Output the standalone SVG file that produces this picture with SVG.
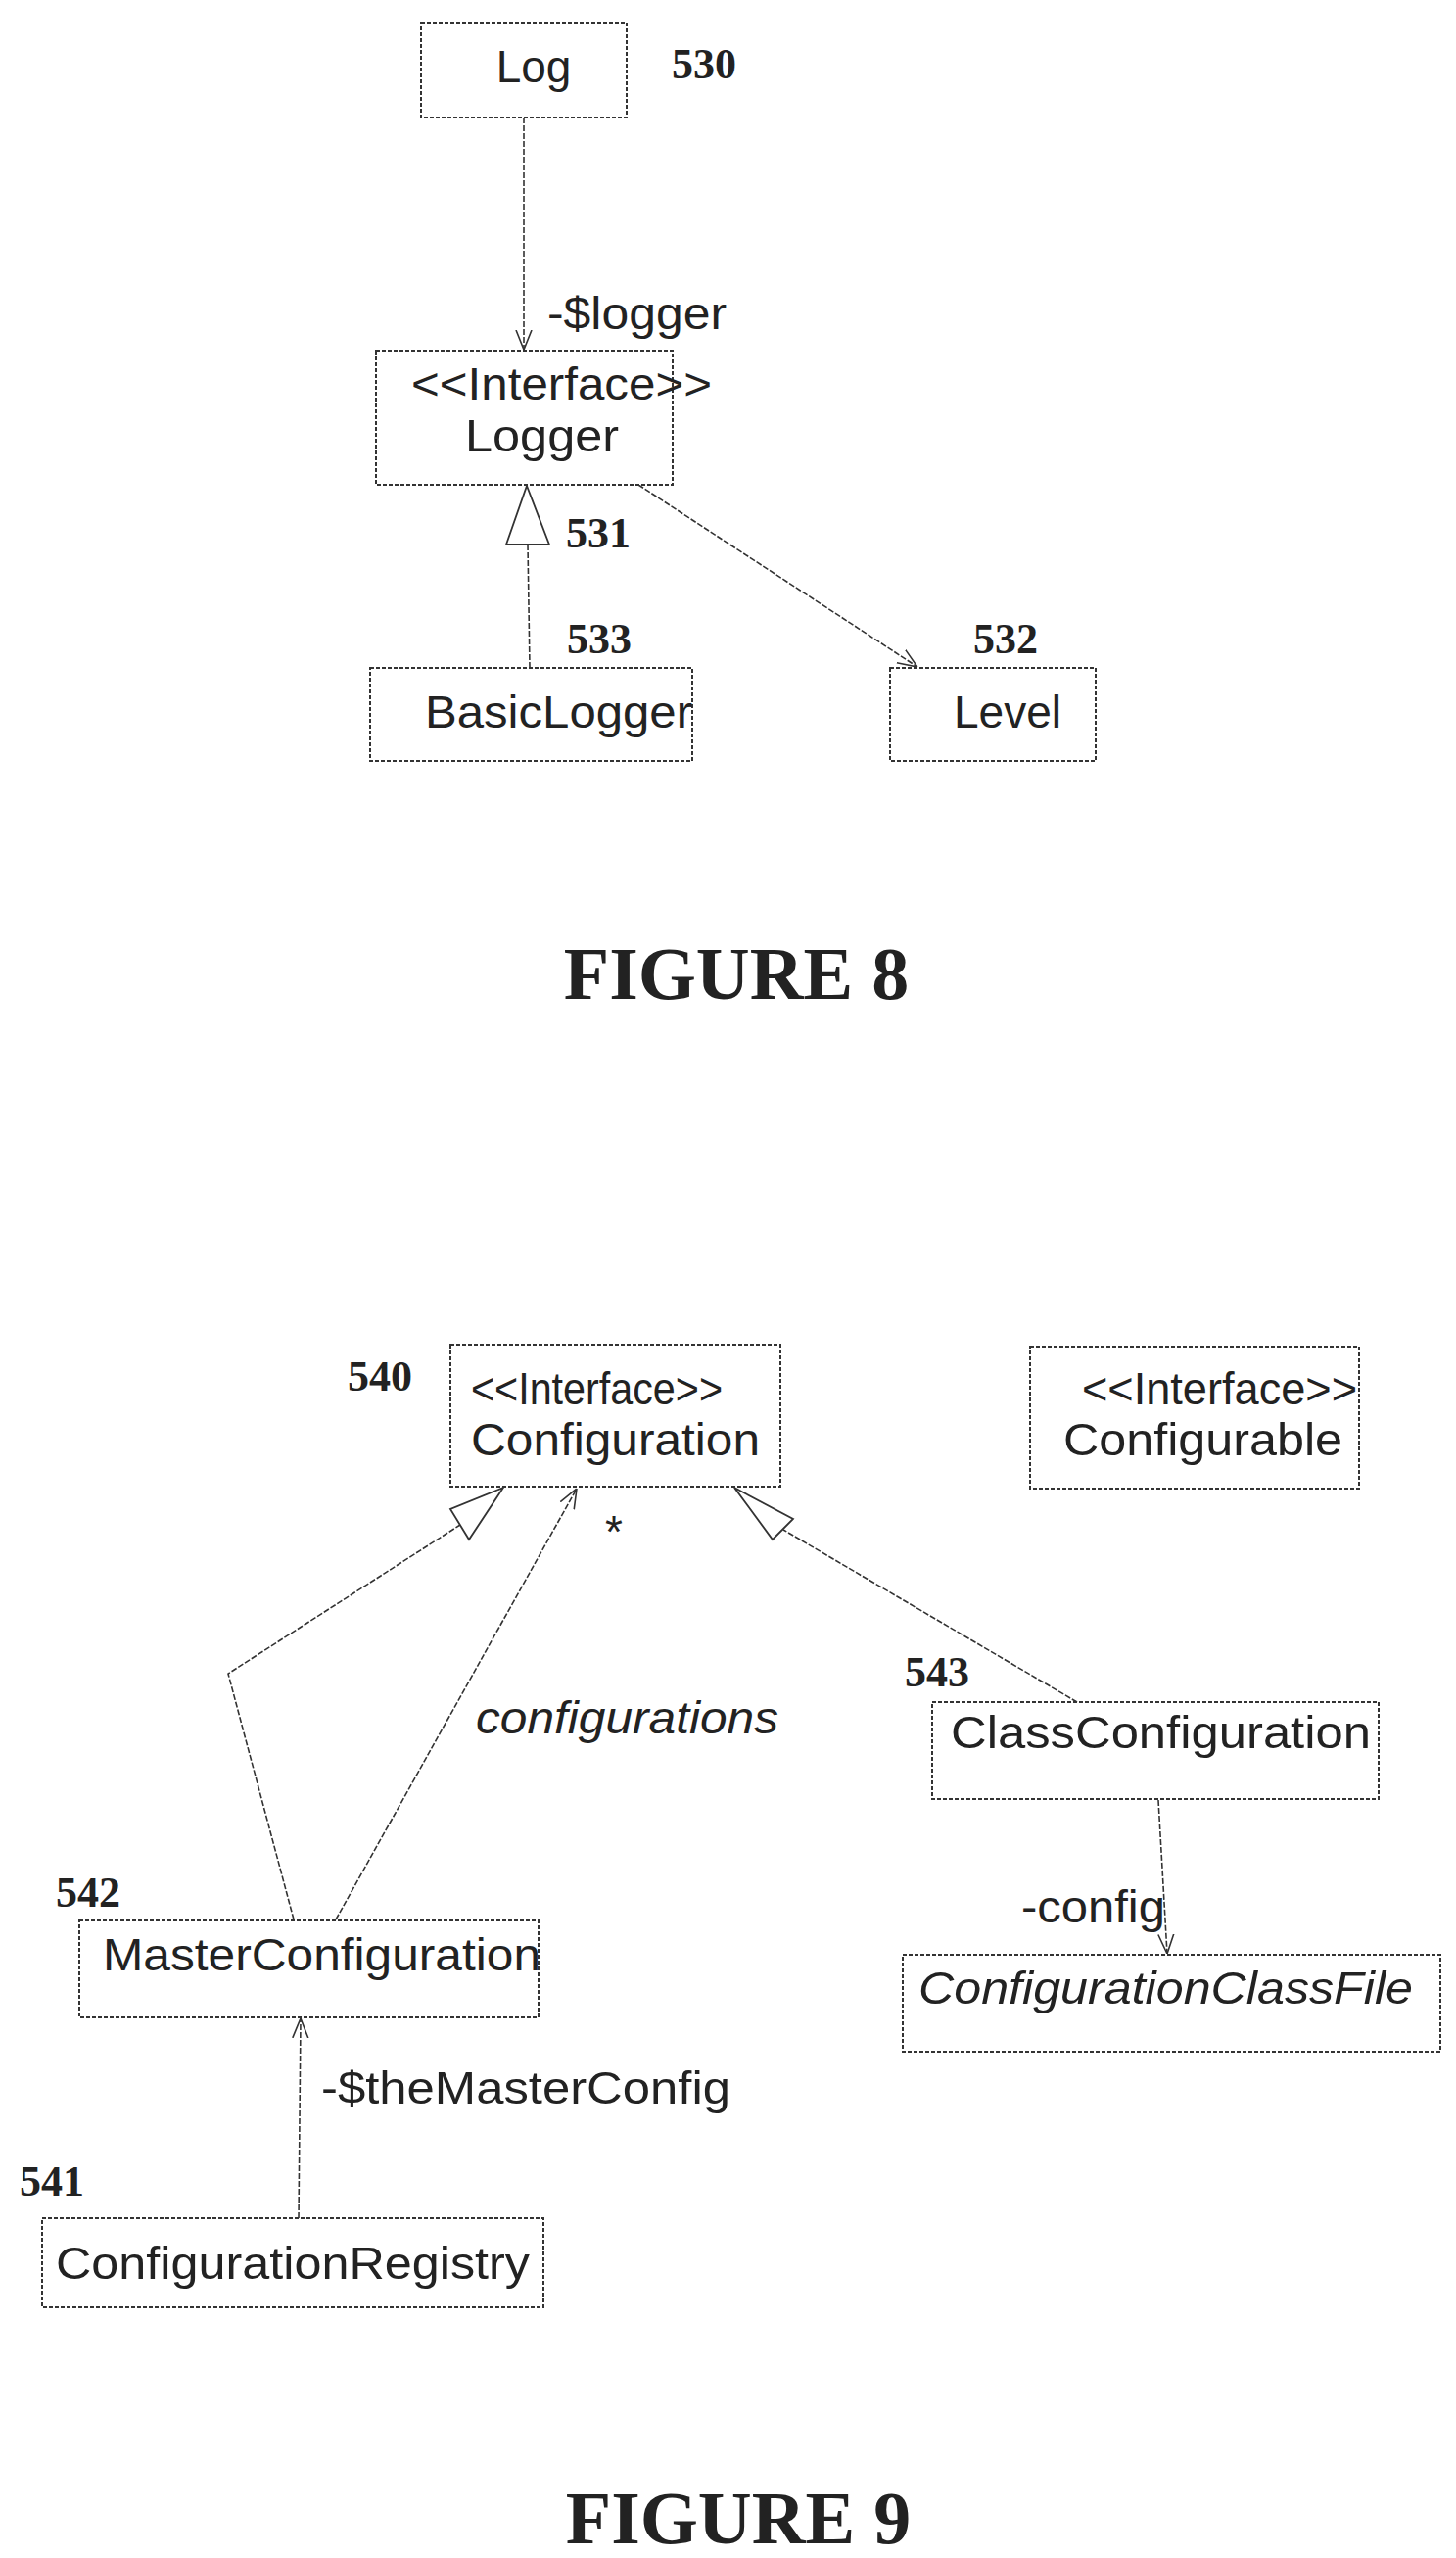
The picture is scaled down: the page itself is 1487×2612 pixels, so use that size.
<svg xmlns="http://www.w3.org/2000/svg" width="1487" height="2612" viewBox="0 0 1487 2612">
<style>
.box{fill:#fff;stroke:#333;stroke-width:2;stroke-dasharray:4 2}
.t{font-family:"Liberation Sans",Arial,sans-serif;font-size:46px;fill:#222}
.i{font-style:italic}
.n{font-family:"Liberation Serif","Times New Roman",serif;font-weight:bold;font-size:44px;fill:#222}
.f{font-family:"Liberation Serif","Times New Roman",serif;font-weight:bold;font-size:76px;fill:#222;text-anchor:middle}
.c{fill:none;stroke:#333;stroke-width:1.6;stroke-dasharray:6 2}
.tri{fill:#fff;stroke:#333;stroke-width:1.8}
</style>
<defs>
<marker id="open" viewBox="0 0 20 20" refX="20" refY="10" markerWidth="20" markerHeight="20" markerUnits="userSpaceOnUse" orient="auto">
<path d="M0,2 L20,10 L0,18" fill="none" stroke="#333" stroke-width="1.6"/>
</marker>
</defs>
<g id="connectors">
<line class="c" x1="535" y1="120" x2="535" y2="357" marker-end="url(#open)"/>
<line class="c" x1="541" y1="682" x2="539" y2="556"/>
<polygon class="tri" points="538,496 517,556 561,556"/>
<line class="c" x1="652" y1="495" x2="937" y2="681" marker-end="url(#open)"/>
<polyline class="c" points="300,1960 233,1709 470,1557"/>
<polygon class="tri" points="514,1519 460,1541 479,1572"/>
<line class="c" x1="343" y1="1960" x2="589" y2="1520" marker-end="url(#open)"/>
<line class="c" x1="1100" y1="1738" x2="800" y2="1562"/>
<polygon class="tri" points="750,1519 810,1551 789,1572"/>
<line class="c" x1="1183" y1="1838" x2="1192" y2="1995" marker-end="url(#open)"/>
<line class="c" x1="305" y1="2265" x2="307" y2="2061" marker-end="url(#open)"/>
<text class="t" x="559" y="336" textLength="183" lengthAdjust="spacingAndGlyphs">-$logger</text>
<text class="n" x="578" y="559">531</text>
<text class="t" x="618" y="1580" font-size="30">*</text>
<text class="t i" x="486" y="1770" textLength="309" lengthAdjust="spacingAndGlyphs">configurations</text>
<text class="t" x="1043" y="1963" textLength="147" lengthAdjust="spacingAndGlyphs">-config</text>
<text class="t" x="328" y="2148" textLength="418" lengthAdjust="spacingAndGlyphs">-$theMasterConfig</text>
</g>
<g id="log"><rect class="box" x="430" y="23" width="210" height="97"/><text class="t" x="545" y="84" text-anchor="middle">Log</text><text class="n" x="686" y="80">530</text></g>
<g id="logger"><rect class="box" x="384" y="358" width="303" height="137"/><text class="t" x="420" y="408" textLength="307" lengthAdjust="spacingAndGlyphs">&lt;&lt;Interface&gt;&gt;</text><text class="t" x="475" y="461" textLength="157" lengthAdjust="spacingAndGlyphs">Logger</text></g>
<g id="basiclogger"><rect class="box" x="378" y="682" width="329" height="95"/><text class="t" x="434" y="743" textLength="273" lengthAdjust="spacingAndGlyphs">BasicLogger</text><text class="n" x="579" y="667">533</text></g>
<g id="level"><rect class="box" x="909" y="682" width="210" height="95"/><text class="t" x="1029" y="743" text-anchor="middle">Level</text><text class="n" x="994" y="667">532</text></g>
<text class="f" x="752" y="1020">FIGURE 8</text>
<g id="configuration"><rect class="box" x="460" y="1373" width="337" height="145"/><text class="t" x="481" y="1434" textLength="257" font-size="38" lengthAdjust="spacingAndGlyphs">&lt;&lt;Interface&gt;&gt;</text><text class="t" x="481" y="1486" textLength="295" font-size="50" lengthAdjust="spacingAndGlyphs">Configuration</text><text class="n" x="355" y="1420">540</text></g>
<g id="configurable"><rect class="box" x="1052" y="1375" width="336" height="145"/><text class="t" x="1105" y="1434" textLength="281" font-size="40" lengthAdjust="spacingAndGlyphs">&lt;&lt;Interface&gt;&gt;</text><text class="t" x="1086" y="1486" textLength="285" font-size="50" lengthAdjust="spacingAndGlyphs">Configurable</text></g>
<g id="classconfiguration"><rect class="box" x="952" y="1738" width="456" height="99"/><text class="t" x="971" y="1785" textLength="429" font-size="50" lengthAdjust="spacingAndGlyphs">ClassConfiguration</text><text class="n" x="924" y="1722">543</text></g>
<g id="configurationclassfile"><rect class="box" x="922" y="1996" width="549" height="99"/><text class="t i" x="938" y="2046" textLength="505" font-size="50" lengthAdjust="spacingAndGlyphs">ConfigurationClassFile</text></g>
<g id="masterconfiguration"><rect class="box" x="81" y="1961" width="469" height="99"/><text class="t" x="105" y="2012" textLength="447" font-size="50" lengthAdjust="spacingAndGlyphs">MasterConfiguration</text><text class="n" x="57" y="1947">542</text></g>
<g id="configurationregistry"><rect class="box" x="43" y="2265" width="512" height="91"/><text class="t" x="57" y="2327" textLength="484" lengthAdjust="spacingAndGlyphs">ConfigurationRegistry</text><text class="n" x="20" y="2242">541</text></g>
<text class="f" x="754" y="2597">FIGURE 9</text>
</svg>
